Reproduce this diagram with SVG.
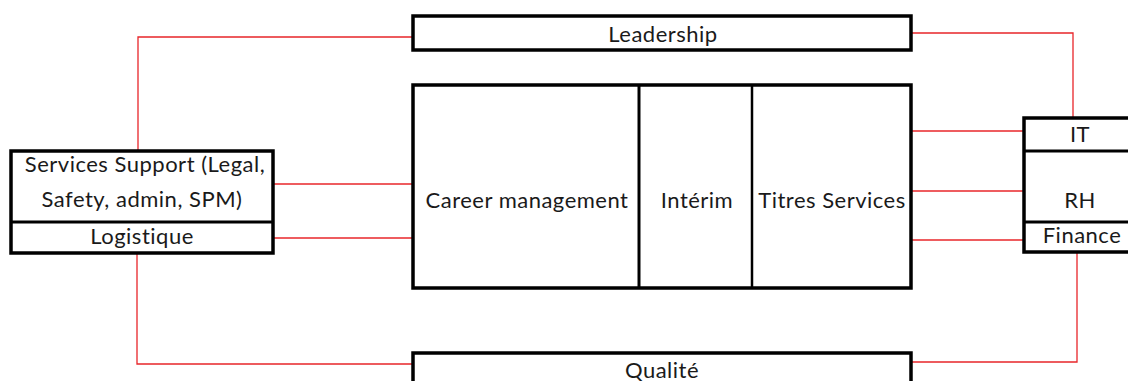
<svg xmlns="http://www.w3.org/2000/svg" width="1128" height="381" viewBox="0 0 1128 381">
<style>
.box{fill:#fff;stroke:#000;stroke-width:3.5}
.div{stroke:#000;stroke-width:3}
.lbl{font-family:Lato,"Open Sans",sans-serif;font-size:22px;letter-spacing:0.5px;fill:#1a1a1a;text-anchor:middle;dominant-baseline:central}
.con{fill:none;stroke:#e8262a;stroke-width:1.3}
</style>
<rect width="1128" height="381" fill="#fff"/>
<g id="connectors">
<polyline class="con" points="138,150 138,37 413,37"/>
<polyline class="con" points="911,33 1073,33 1073,118"/>
<line class="con" x1="273" y1="184" x2="413" y2="184"/>
<line class="con" x1="273" y1="238" x2="413" y2="238"/>
<line class="con" x1="911" y1="131" x2="1023" y2="131"/>
<line class="con" x1="911" y1="191" x2="1023" y2="191"/>
<line class="con" x1="911" y1="240" x2="1023" y2="240"/>
<polyline class="con" points="137,253 137,364 413,364"/>
<polyline class="con" points="1077,253 1077,362 911,362"/>
</g>
<g id="leadership">
<rect class="box" x="413" y="16" width="498" height="34"/>
<text class="lbl" x="663" y="33">Leadership</text>
</g>
<g id="core">
<rect class="box" x="413" y="85" width="498" height="203"/>
<line class="div" x1="639" y1="85" x2="639" y2="288" stroke-width="4"/>
<line class="div" x1="752" y1="85" x2="752" y2="288" style="stroke-width:2.5"/>
<text class="lbl" x="527" y="199">Career management</text>
<text class="lbl" x="697" y="199">Intérim</text>
<text class="lbl" x="832" y="199">Titres Services</text>
</g>
<g id="qualite">
<rect class="box" x="413" y="353" width="498" height="40"/>
<text class="lbl" x="662" y="369">Qualité</text>
</g>
<g id="support">
<rect class="box" x="11" y="151" width="262" height="102"/>
<line class="div" x1="11" y1="222" x2="273" y2="222"/>
<text class="lbl" x="145" y="163">Services Support (Legal,</text>
<text class="lbl" x="142" y="198">Safety, admin, SPM)</text>
<text class="lbl" x="142" y="235">Logistique</text>
</g>
<g id="functions">
<rect class="box" x="1024" y="118" width="110" height="134"/>
<line class="div" x1="1024" y1="151" x2="1128" y2="151"/>
<line class="div" x1="1024" y1="222" x2="1128" y2="222"/>
<text class="lbl" x="1080" y="133">IT</text>
<text class="lbl" x="1080" y="199">RH</text>
<text class="lbl" x="1082" y="234">Finance</text>
</g>
</svg>
